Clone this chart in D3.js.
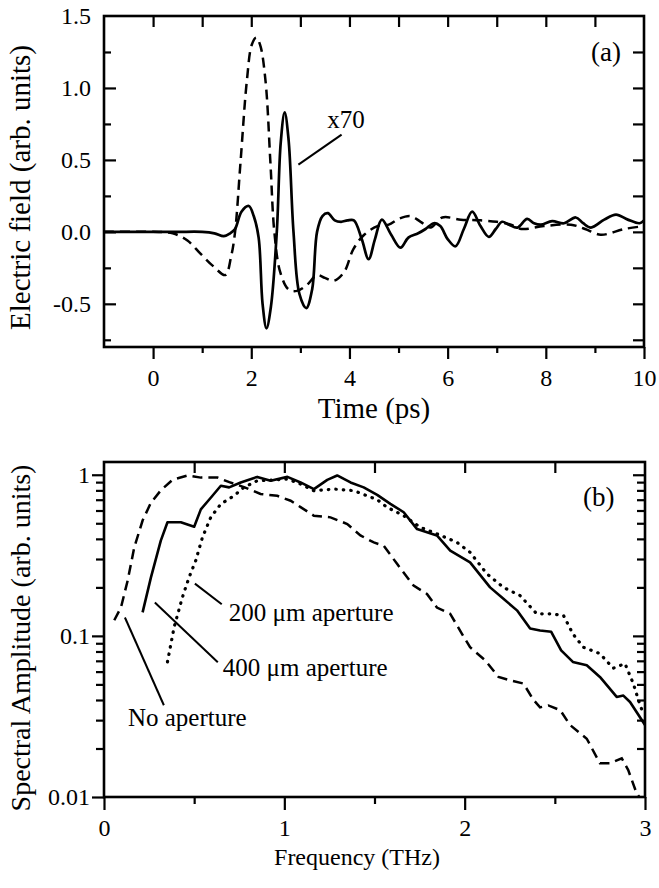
<!DOCTYPE html>
<html><head><meta charset="utf-8">
<script src="https://cdn.jsdelivr.net/npm/d3@7"></script>
<style>
body{margin:0;background:#fff}
svg{display:block;background:#fff}
text{font-family:"Liberation Serif","Times New Roman",serif;fill:#000}
</style>
</head><body>
<svg id="c" width="659" height="888"></svg>
<script>
// ---------- Panel (a) data: time (ps) / electric field ----------
const timeSolid  = [-1.0,-0.5,0.0,0.5,1.0,1.25,1.44,1.57,1.67,1.80,1.95,2.05,2.15,2.23,2.31,2.40,2.52,2.60,2.68,2.76,2.86,2.98,3.12,3.24,3.34,3.45,3.56,3.70,3.83,3.96,4.09,4.25,4.39,4.52,4.66,4.85,5.04,5.20,5.40,5.55,5.72,5.85,6.00,6.16,6.33,6.50,6.67,6.84,6.98,7.11,7.25,7.42,7.62,7.76,7.90,8.13,8.37,8.61,8.76,8.92,9.19,9.43,9.67,9.91,10.0];
const fieldSolid = [0.0,0.0,0.0,0.0,0.0,-0.01,-0.03,-0.01,0.02,0.14,0.18,0.11,-0.04,-0.50,-0.67,-0.52,0.0,0.62,0.83,0.64,0.0,-0.43,-0.53,-0.40,0.0,0.11,0.13,0.08,0.07,0.08,0.08,-0.05,-0.19,-0.05,0.085,-0.02,-0.11,-0.04,-0.01,0.02,0.06,0.04,-0.05,-0.10,0.02,0.14,0.04,-0.035,0.02,0.07,0.05,0.03,0.09,0.06,0.05,0.075,0.06,0.10,0.06,0.03,0.085,0.12,0.085,0.06,0.08];
const timeDashed  = [-1.0,0.0,0.4,0.7,0.96,1.23,1.47,1.59,1.67,1.78,1.91,2.01,2.10,2.18,2.29,2.39,2.47,2.59,2.76,2.93,3.13,3.34,3.50,3.68,3.89,4.08,4.30,4.57,4.80,5.00,5.24,5.45,5.65,5.89,6.27,6.67,7.00,7.29,7.50,7.96,8.51,8.80,9.12,9.60,10.0];
const fieldDashed = [0.0,0.0,-0.01,-0.06,-0.15,-0.24,-0.30,-0.17,0.0,0.48,1.05,1.30,1.35,1.30,1.05,0.48,0.0,-0.28,-0.40,-0.41,-0.37,-0.30,-0.32,-0.34,-0.28,-0.12,-0.02,0.04,0.05,0.09,0.11,0.07,0.03,0.10,0.085,0.08,0.07,0.05,0.02,0.04,0.05,0.02,-0.02,0.02,0.04];
const timeTicks = [-1,0,1,2,3,4,5,6,7,8,9,10];
const timeLabels = [0,2,4,6,8,10];
const fieldTicks = [-0.75,-0.5,-0.25,0,0.25,0.5,0.75,1.0,1.25,1.5];
const fieldLabels = [-0.5,0,0.5,1.0,1.5];

// ---------- Panel (b) data: frequency (THz) / spectral amplitude ----------
const freqNoAp = [0.057,0.094,0.131,0.168,0.214,0.26,0.315,0.38,0.463,0.537,0.63,0.695,0.78,0.868,0.961,1.035,1.09,1.164,1.256,1.349,1.422,1.496,1.551,1.625,1.717,1.791,1.846,1.92,1.985,2.03,2.114,2.188,2.252,2.326,2.382,2.418,2.464,2.53,2.584,2.677,2.75,2.806,2.871,2.907,2.954,2.975];
const ampNoAp  = [0.125,0.15,0.22,0.355,0.52,0.67,0.80,0.93,0.99,0.96,0.96,0.90,0.835,0.76,0.74,0.69,0.63,0.557,0.544,0.495,0.42,0.38,0.363,0.28,0.205,0.182,0.15,0.137,0.103,0.085,0.0705,0.0556,0.053,0.0506,0.040,0.036,0.037,0.0346,0.028,0.023,0.0162,0.0162,0.0174,0.0147,0.0105,0.0098];
const freq400 = [0.214,0.26,0.315,0.352,0.426,0.50,0.537,0.592,0.648,0.694,0.758,0.85,0.924,1.017,1.09,1.164,1.238,1.293,1.367,1.44,1.515,1.588,1.662,1.736,1.846,1.92,2.03,2.141,2.215,2.29,2.363,2.418,2.48,2.535,2.60,2.677,2.75,2.843,2.88,2.917,3.0];
const amp400  = [0.14,0.23,0.39,0.507,0.507,0.476,0.61,0.72,0.855,0.835,0.896,0.97,0.918,0.97,0.896,0.815,0.93,0.99,0.896,0.835,0.75,0.66,0.585,0.46,0.42,0.338,0.286,0.20,0.17,0.144,0.111,0.108,0.106,0.0813,0.0689,0.0657,0.0556,0.0418,0.0426,0.0389,0.028];
const freq200 = [0.352,0.389,0.435,0.472,0.509,0.546,0.592,0.648,0.721,0.776,0.85,0.943,1.017,1.09,1.164,1.275,1.386,1.459,1.515,1.57,1.662,1.754,1.846,1.957,2.03,2.123,2.215,2.307,2.40,2.474,2.548,2.60,2.658,2.75,2.824,2.889,2.935,2.97,2.99];
const amp200  = [0.069,0.1135,0.174,0.231,0.294,0.409,0.544,0.659,0.741,0.835,0.918,0.927,0.94,0.876,0.796,0.815,0.796,0.74,0.70,0.628,0.557,0.472,0.43,0.381,0.33,0.243,0.20,0.178,0.137,0.137,0.134,0.103,0.085,0.0776,0.063,0.0673,0.0506,0.038,0.033];
const freqTicks = [0,0.5,1,1.5,2,2.5,3];
const freqLabels = [0,1,2,3];
const ampTicks = [0.01,0.02,0.03,0.04,0.05,0.06,0.07,0.08,0.09,0.1,0.2,0.3,0.4,0.5,0.6,0.7,0.8,0.9,1];
const ampLabels = [0.01,0.1,1];

// annotations (data coordinates)
const annA = {text:"x70", line:[[2.96,0.467],[3.84,0.676]], pos:[3.55,0.72]};
const annB = [
  {text:"200 \u03bcm aperture", line:[[0.504,0.211],[0.653,0.157]], pos:[0.692,0.138]},
  {text:"400 \u03bcm aperture", line:[[0.282,0.161],[0.631,0.0686]], pos:[0.659,0.063]},
  {text:"No aperture", line:[[0.116,0.130],[0.332,0.0371]], pos:[0.133,0.0308]}
];

const svg = d3.select("#c");
const FS = 24;

function tweak(g, majors, dimAttr, majorLen, minorLen) {
  g.selectAll(".tick").each(function(d){
    const isMaj = majors.some(m => Math.abs(m - d) < 1e-9);
    d3.select(this).select("line").attr(dimAttr, isMaj ? majorLen : minorLen);
  });
  g.select(".domain").remove();
  g.selectAll("line").attr("stroke","#000").attr("stroke-width",2.2);
  g.attr("font-family",null);
  g.selectAll("text").attr("font-size",FS).attr("font-family",'"Liberation Serif","Times New Roman",serif').attr("fill","#000");
}

// ================= Panel (a) =================
const xA = d3.scaleLinear().domain([-1,10]).range([104,644]);
const yA = d3.scaleLinear().domain([-0.8,1.5]).range([347,16]);
const fmtField = v => fieldLabels.some(m=>Math.abs(m-v)<1e-9) ? v.toFixed(1) : "";
const fmtTime = v => timeLabels.includes(v) ? String(v) : "";

// bottom (outward)
let g = svg.append("g").attr("transform",`translate(0,${yA.range()[0]})`)
  .call(d3.axisBottom(xA).tickValues(timeTicks.filter(v=>v>-1)).tickFormat(fmtTime).tickSizeOuter(0).tickPadding(16));
tweak(g, timeLabels, "y2", 12, 6);
// top (inward)
g = svg.append("g").attr("transform",`translate(0,${yA.range()[1]})`)
  .call(d3.axisTop(xA).tickValues(timeTicks.filter(v=>v>-1 && v<10)).tickFormat("").tickSizeOuter(0));
tweak(g, timeTicks, "y2", 11, 11);
// left (inward ticks, labels outside)
g = svg.append("g").attr("transform",`translate(${xA.range()[0]},0)`)
  .call(d3.axisLeft(yA).tickValues(fieldTicks.filter(v=>v<1.5)).tickFormat(fmtField).tickSizeInner(-12).tickSizeOuter(0).tickPadding(13));
tweak(g, fieldLabels, "x2", 12, 7);
// label 1.5 at top corner
svg.append("text").attr("x",xA.range()[0]-13).attr("y",yA(1.5)).attr("dy","0.32em")
  .attr("text-anchor","end").attr("font-size",FS).text("1.5");
// right (inward)
g = svg.append("g").attr("transform",`translate(${xA.range()[1]},0)`)
  .call(d3.axisRight(yA).tickValues(fieldTicks.filter(v=>v<1.5)).tickFormat("").tickSizeInner(-11).tickSizeOuter(0));
tweak(g, fieldTicks, "x2", -11, -11);
// frame
svg.append("rect").attr("x",xA.range()[0]).attr("y",yA.range()[1])
  .attr("width",xA.range()[1]-xA.range()[0]).attr("height",yA.range()[0]-yA.range()[1])
  .attr("fill","none").attr("stroke","#000").attr("stroke-width",2.6);

svg.append("clipPath").attr("id","clipA").append("rect")
  .attr("x",xA.range()[0]).attr("y",yA.range()[1]).attr("width",xA.range()[1]-xA.range()[0]).attr("height",yA.range()[0]-yA.range()[1]);
const lineA = d3.line().x(d=>xA(d[0])).y(d=>yA(d[1])).curve(d3.curveCatmullRom.alpha(0.5));
svg.append("path").attr("clip-path","url(#clipA)")
  .attr("d", lineA(timeDashed.map((t,i)=>[t,fieldDashed[i]])))
  .attr("fill","none").attr("stroke","#000").attr("stroke-width",2.5).attr("stroke-dasharray","10,6");
svg.append("path").attr("clip-path","url(#clipA)")
  .attr("d", lineA(timeSolid.map((t,i)=>[t,fieldSolid[i]])))
  .attr("fill","none").attr("stroke","#000").attr("stroke-width",2.7).attr("stroke-linejoin","round");

// annotation x70
svg.append("line").attr("x1",xA(annA.line[0][0])).attr("y1",yA(annA.line[0][1]))
  .attr("x2",xA(annA.line[1][0])).attr("y2",yA(annA.line[1][1])).attr("stroke","#000").attr("stroke-width",2);
svg.append("text").attr("x",xA(annA.pos[0])).attr("y",yA(annA.pos[1])).attr("font-size",25).text(annA.text);
svg.append("text").attr("x",591).attr("y",61).attr("font-size",27).text("(a)");

// titles
svg.append("text").attr("x",374).attr("y",418).attr("text-anchor","middle").attr("font-size",29).text("Time (ps)");
svg.append("text").attr("transform",`translate(30,${(yA.range()[0]+yA.range()[1])/2+6}) rotate(-90)`)
  .attr("text-anchor","middle").attr("font-size",29).text("Electric field (arb. units)");

// ================= Panel (b) =================
const xB = d3.scaleLinear().domain([0,3]).range([104,645]);
const yB = d3.scaleLog().domain([0.01,1.2]).range([797,462]);
const fmtAmp = v => ampLabels.some(m=>Math.abs(m-v)<1e-12) ? String(+v.toPrecision(1)) : "";

g = svg.append("g").attr("transform",`translate(0,${yB.range()[0]})`)
  .call(d3.axisBottom(xB).tickValues(freqTicks).tickFormat(v=>freqLabels.includes(v)?String(v):"").tickSizeOuter(0).tickPadding(16));
tweak(g, freqLabels, "y2", 13, 7);
g = svg.append("g").attr("transform",`translate(0,${yB.range()[1]})`)
  .call(d3.axisTop(xB).tickValues(freqTicks.filter(v=>v>0&&v<3)).tickFormat("").tickSizeOuter(0));
tweak(g, freqTicks, "y2", 11, 11);
g = svg.append("g").attr("transform",`translate(${xB.range()[0]},0)`)
  .call(d3.axisLeft(yB).tickValues(ampTicks).tickFormat(fmtAmp).tickSizeOuter(0).tickPadding(8));
tweak(g, ampLabels, "x2", -12, -8);
g = svg.append("g").attr("transform",`translate(${xB.range()[1]},0)`)
  .call(d3.axisRight(yB).tickValues(ampTicks.filter(v=>v>0.01)).tickFormat("").tickSizeOuter(0));
tweak(g, ampLabels, "x2", -12, -8);
svg.append("rect").attr("x",xB.range()[0]).attr("y",yB.range()[1])
  .attr("width",xB.range()[1]-xB.range()[0]).attr("height",yB.range()[0]-yB.range()[1])
  .attr("fill","none").attr("stroke","#000").attr("stroke-width",2.6);

svg.append("clipPath").attr("id","clipB").append("rect")
  .attr("x",xB.range()[0]).attr("y",yB.range()[1]-2).attr("width",xB.range()[1]-xB.range()[0]).attr("height",yB.range()[0]-yB.range()[1]+2);
const lineB = d3.line().x(d=>xB(d[0])).y(d=>yB(d[1]));
svg.append("path").attr("clip-path","url(#clipB)")
  .attr("d", lineB(freqNoAp.map((f,i)=>[f,ampNoAp[i]])))
  .attr("fill","none").attr("stroke","#000").attr("stroke-width",2.5).attr("stroke-dasharray","10,6");
svg.append("path").attr("clip-path","url(#clipB)")
  .attr("d", lineB(freq400.map((f,i)=>[f,amp400[i]])))
  .attr("fill","none").attr("stroke","#000").attr("stroke-width",2.6).attr("stroke-linejoin","round");
svg.append("path").attr("clip-path","url(#clipB)")
  .attr("d", lineB(freq200.map((f,i)=>[f,amp200[i]])))
  .attr("fill","none").attr("stroke","#000").attr("stroke-width",3.2).attr("stroke-linecap","round").attr("stroke-dasharray","0.5,7");

annB.forEach(a=>{
  svg.append("line").attr("x1",xB(a.line[0][0])).attr("y1",yB(a.line[0][1]))
    .attr("x2",xB(a.line[1][0])).attr("y2",yB(a.line[1][1])).attr("stroke","#000").attr("stroke-width",2);
  svg.append("text").attr("x",xB(a.pos[0])).attr("y",yB(a.pos[1])).attr("dy","0.32em").attr("font-size",25).text(a.text);
});
svg.append("text").attr("x",583).attr("y",506).attr("font-size",27).text("(b)");

svg.append("text").attr("x",357).attr("y",865).attr("text-anchor","middle").attr("font-size",24).text("Frequency (THz)");
svg.append("text").attr("transform",`translate(30,638) rotate(-90)`)
  .attr("text-anchor","middle").attr("font-size",28).text("Spectral Amplitude (arb. units)");
</script>
</body></html>
